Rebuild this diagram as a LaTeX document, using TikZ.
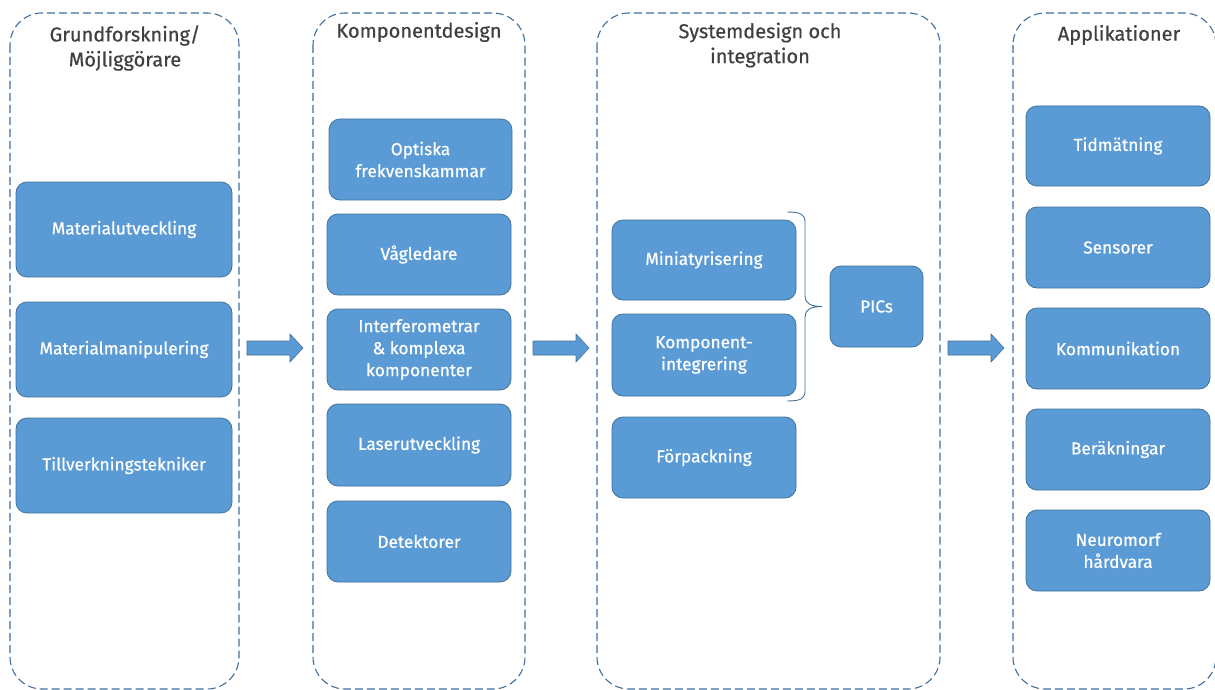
\documentclass[tikz,border=0pt]{standalone}
\usepackage{fontspec}
\setmainfont{Fira Sans}
\newfontfamily\medfont{Fira Sans}[FakeBold=0.6]
\definecolor{boxfill}{HTML}{5B9BD5}
\definecolor{boxline}{HTML}{41719C}
\definecolor{dashline}{HTML}{3F6E9E}
\definecolor{titlecol}{HTML}{404040}
\begin{document}
\begin{tikzpicture}[x=1pt,y=-1pt,
  column/.style={draw=dashline, dash pattern=on 8pt off 4pt, line width=1.1pt, rounded corners=32pt},
  coltitle/.style={text=titlecol, font=\medfont\fontsize{20}{25}\selectfont, align=center},
  bluebox/.style={draw=boxline, fill=boxfill, line width=0.8pt, rounded corners=11pt, text=white,
     font=\medfont\fontsize{17.3}{22}\selectfont, align=center, inner sep=0pt},
  blockarrow/.style={draw=boxline, fill=boxfill, line width=0.6pt}
]
\useasboundingbox (0,0) rectangle (1215,690);
\begin{scope}
\clip (0,0) rectangle (1215,690);
% columns
\draw[column] (10,13) rectangle (239,689);
\draw[column] (313,13) rectangle (525,689);
\draw[column] (597,13) rectangle (940,689);
\draw[column] (1013,13) rectangle (1216,689);
\end{scope}
% titles
\node[coltitle] (t1) at (125,48) {Grundforskning/\\Möjliggörare};
\node[coltitle] (t2) at (419,32) {Komponentdesign};
\node[coltitle] (t3) at (760,45) {Systemdesign och\\integration};
\node[coltitle] (t4) at (1119,35) {Applikationer};
% column 1
\node[bluebox, minimum width=216pt, minimum height=95pt] (a1) at (124,229.5) {Materialutveckling};
\node[bluebox, minimum width=216pt, minimum height=95pt] (a2) at (124,349.5) {Materialmanipulering};
\node[bluebox, minimum width=216pt, minimum height=95pt] (a3) at (124,465.5) {Tillverkningstekniker};
% column 2
\node[bluebox, minimum width=183pt, minimum height=81pt] (b1) at (420.5,159.5) {Optiska\\frekvenskammar};
\node[bluebox, minimum width=184pt, minimum height=81pt] (b2) at (419,254.5) {Vågledare};
\node[bluebox, minimum width=184pt, minimum height=81pt] (b3) at (419,349.5) {Interferometrar\\\& komplexa\\komponenter};
\node[bluebox, minimum width=184pt, minimum height=82pt] (b4) at (419,445) {Laserutveckling};
\node[bluebox, minimum width=184pt, minimum height=81pt] (b5) at (419,541.5) {Detektorer};
% column 3
\node[bluebox, minimum width=184pt, minimum height=80pt] (c1) at (704,260) {Miniatyrisering};
\node[bluebox, minimum width=184pt, minimum height=82pt] (c2) at (704,355) {Komponent-\\integrering};
\node[bluebox, minimum width=184pt, minimum height=81pt] (c3) at (704,457.5) {Förpackning};
\node[bluebox, minimum width=93pt, minimum height=81pt] (pic) at (876.5,306.5) {PICs};
% brace
\coordinate (br1) at (787,212);
\coordinate (br2) at (787,401);
\coordinate (brtip) at (822,306.5);
\draw[boxline, line width=0.9pt]
  (br1) .. controls (800,212) and (805,214) .. (805,222)
  -- (805,296) .. controls (805,303) and (810,306.5) .. (brtip)
  (brtip) .. controls (810,306.5) and (805,310) .. (805,317)
  -- (805,391) .. controls (805,399) and (800,401) .. (br2);
% column 4
\node[bluebox, minimum width=184pt, minimum height=80pt] (d1) at (1118,146) {Tidmätning};
\node[bluebox, minimum width=184pt, minimum height=81pt] (d2) at (1118,247.5) {Sensorer};
\node[bluebox, minimum width=184pt, minimum height=81pt] (d3) at (1118,348.5) {Kommunikation};
\node[bluebox, minimum width=184pt, minimum height=81pt] (d4) at (1118,449.5) {Beräkningar};
\node[bluebox, minimum width=184pt, minimum height=81pt] (d5) at (1118,550.5) {Neuromorf\\hårdvara};
% block arrows
\foreach \n/\xx in {ar1/247, ar2/533, ar3/948}{
  \draw[blockarrow] (\xx,341) -- ++(43,0) -- ++(0,-7) -- ++(13,14) -- ++(-13,14) -- ++(0,-7) -- ++(-43,0) -- cycle;
}
\end{tikzpicture}
\end{document}
